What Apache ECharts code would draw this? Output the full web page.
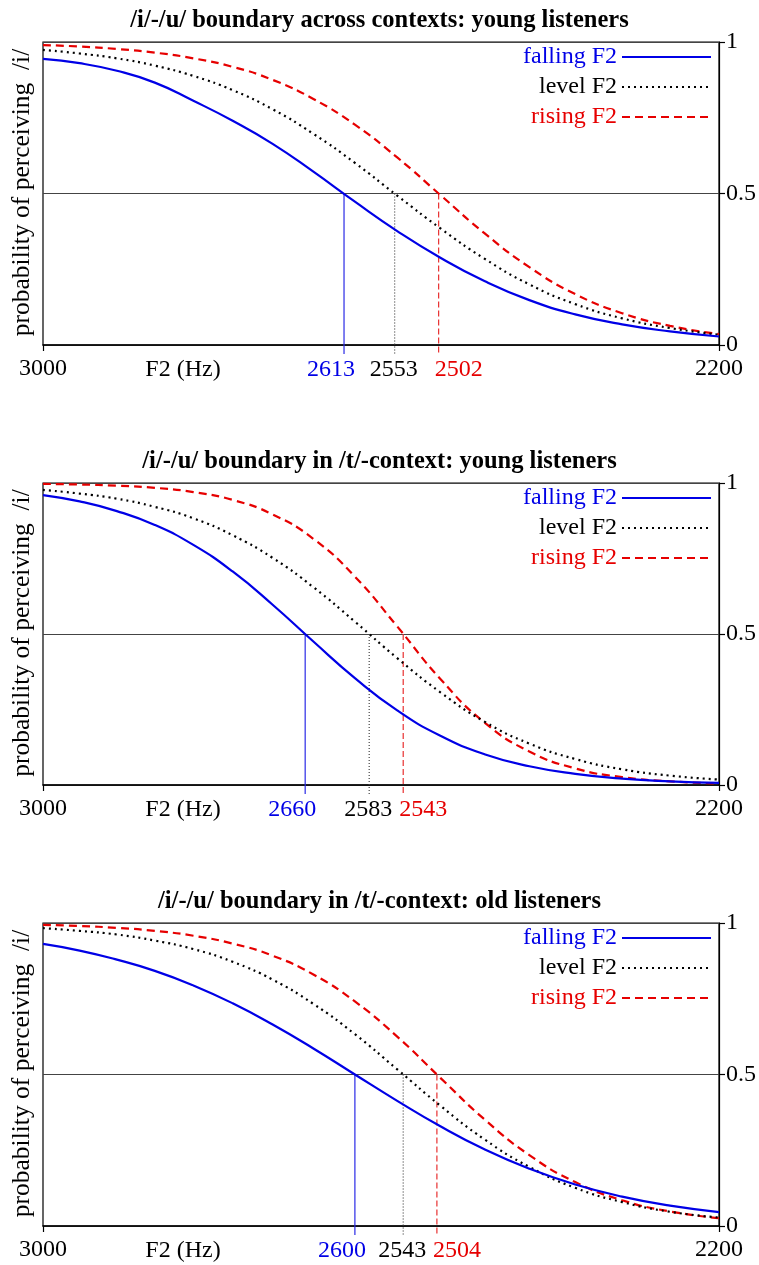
<!DOCTYPE html>
<html><head><meta charset="utf-8">
<script src="https://cdn.jsdelivr.net/npm/echarts@6/dist/echarts.min.js"></script>
<style>html,body{margin:0;padding:0;background:#fff}#c{width:759px;height:1265px}</style>
</head><body><div id="c"></div>
<script>
// ---- data ----
const F2 = [3000, 2950, 2900, 2850, 2800, 2750, 2700, 2650, 2600, 2550, 2500, 2450, 2400, 2350, 2300, 2250, 2200];
const panelTitles = [
  '/i/-/u/ boundary across contexts: young listeners',
  '/i/-/u/ boundary in /t/-context: young listeners',
  '/i/-/u/ boundary in /t/-context: old listeners'
];
const seriesNames = ['falling F2', 'level F2', 'rising F2'];
const xTickValues = [3000, 2200];
const yTickValues = [0, 0.5, 1];
const xAxisName = 'F2 (Hz)';
const yAxisName = 'probability of perceiving  /i/';

const p1Falling = [0.944,0.930,0.905,0.866,0.806,0.740,0.664,0.572,0.473,0.376,0.288,0.211,0.148,0.101,0.068,0.045,0.028];
const p1Level   = [0.974,0.962,0.946,0.922,0.888,0.841,0.778,0.697,0.601,0.493,0.385,0.285,0.200,0.135,0.088,0.056,0.034];
const p1Rising  = [0.990,0.985,0.977,0.965,0.946,0.918,0.875,0.812,0.727,0.619,0.495,0.369,0.257,0.168,0.105,0.063,0.036];
const p2Falling = [0.960,0.939,0.907,0.861,0.795,0.707,0.597,0.475,0.354,0.247,0.163,0.102,0.062,0.037,0.021,0.012,0.007];
const p2Level   = [0.977,0.965,0.948,0.921,0.883,0.827,0.752,0.655,0.541,0.420,0.307,0.210,0.137,0.086,0.052,0.031,0.018];
const p2Rising  = [0.997,0.995,0.991,0.984,0.970,0.944,0.896,0.815,0.690,0.525,0.351,0.207,0.111,0.055,0.026,0.012,0.005];
const p3Falling = [0.931,0.909,0.879,0.842,0.794,0.735,0.665,0.586,0.500,0.413,0.329,0.253,0.189,0.137,0.097,0.067,0.046];
const p3Level   = [0.983,0.974,0.962,0.942,0.914,0.872,0.813,0.733,0.633,0.517,0.397,0.286,0.195,0.126,0.079,0.047,0.028];
const p3Rising  = [0.994,0.990,0.984,0.974,0.958,0.932,0.892,0.830,0.741,0.625,0.489,0.352,0.234,0.145,0.085,0.048,0.026];

const p1Boundaries = [2613, 2553, 2502];
const p2Boundaries = [2660, 2583, 2543];
const p3Boundaries = [2600, 2543, 2504];

// ---- layout / style ----
const FONT = '"Liberation Serif", "Times New Roman", serif';
const FS = 24;
const gridTops = [42, 483, 923];
const gridHeights = [303, 302, 303];
const GL = 43, GR = 40;
const colors = ['#0000e6', '#000000', '#e60000'];
const curveDash = ['solid', [2, 4], [8, 5]];
const vDash = [null, [1, 2], [6, 3]];
const vColors = ['#2a2ae6', '#444444', '#e83030'];
const labelDx = [-13, -1, 20];

const panels = [
  { vals: [p1Falling, p1Level, p1Rising], bounds: p1Boundaries },
  { vals: [p2Falling, p2Level, p2Rising], bounds: p2Boundaries },
  { vals: [p3Falling, p3Level, p3Rising], bounds: p3Boundaries }
];

const grid = [], xAxis = [], yAxis = [], series = [], legend = [], title = [], graphic = [];

panels.forEach((p, k) => {
  grid.push({ left: GL, right: GR, top: gridTops[k], height: gridHeights[k],
    show: true, borderColor: '#000', borderWidth: 1.2, backgroundColor: 'transparent' });
  xAxis.push({
    type: 'log', gridIndex: k, min: 2200, max: 3000, inverse: true, logBase: 10,
    axisLine: { show: true, lineStyle: { color: '#000', width: 1.5 } },
    axisTick: { show: true, inside: false, length: 6, customValues: xTickValues, lineStyle: { color: '#000', width: 1.2 } },
    axisLabel: { show: true, customValues: xTickValues, margin: 12, color: '#000',
      fontFamily: FONT, fontSize: FS, formatter: v => String(Math.round(v)) },
    splitLine: { show: false }, minorTick: { show: false }, minorSplitLine: { show: false }
  });
  yAxis.push({
    type: 'value', gridIndex: k, position: 'right', min: 0, max: 1, interval: 0.5,
    axisLine: { show: true, lineStyle: { color: '#000', width: 1.2 } },
    axisTick: { show: true, inside: false, length: 6, lineStyle: { color: '#000', width: 1.2 } },
    axisLabel: { show: true, margin: 7, color: '#000', fontFamily: FONT, fontSize: FS,
      formatter: v => yTickValues.indexOf(v) >= 0 ? String(v) : '' },
    splitLine: { show: true, lineStyle: { color: '#444', width: 1.2 } }
  });
  p.vals.forEach((vals, s) => {
    series.push({
      type: 'line', name: seriesNames[s], xAxisIndex: k, yAxisIndex: k,
      data: F2.map((f, i) => [f, vals[i]]),
      smooth: 0.5, symbol: 'none', showSymbol: false,
      silent: true, animation: false, z: 5 - s,
      lineStyle: { color: colors[s], width: 2.2, type: curveDash[s], cap: 'butt' },
      itemStyle: { color: colors[s] }
    });
  });
  series.push({
    type: 'custom', xAxisIndex: k, yAxisIndex: k, silent: true, animation: false, clip: false, z: 2,
    data: p.bounds.map((f, i) => [f, 0.5, i]),
    encode: { x: 0, y: 1 },
    renderItem: (params, api) => {
      const f = api.value(0), i = api.value(2);
      const a = api.coord([f, 0.5]);
      const b = api.coord([f, 0]);
      return { type: 'group', children: [
        { type: 'line', shape: { x1: a[0], y1: a[1], x2: b[0], y2: b[1] + 9 },
          style: { stroke: vColors[i], lineWidth: 1.2, lineDash: vDash[i] } },
        { type: 'text', style: { text: String(f), x: b[0] + labelDx[i], y: b[1] + 25,
          align: 'center', verticalAlign: 'middle', textAlign: 'center', textVerticalAlign: 'middle',
          fill: colors[i], fontFamily: FONT, fontSize: FS } }
      ]};
    }
  });
  legend.push({
    top: gridTops[k] + 3, right: 47, orient: 'vertical', align: 'right',
    itemWidth: 89, itemHeight: 24, itemGap: 6, padding: 0, selectedMode: false,
    itemStyle: { opacity: 0, borderWidth: 0 },
    textStyle: { fontFamily: FONT, fontSize: FS, color: '#000' },
    data: seriesNames.map((n, i) => ({ name: n, textStyle: { color: colors[i], fontFamily: FONT, fontSize: FS } }))
  });
  title.push({ text: panelTitles[k], left: 'center', top: gridTops[k] - 34, padding: 0,
    textStyle: { fontFamily: FONT, fontSize: 24.5, fontWeight: 'bold', color: '#000' } });
  graphic.push({ type: 'text', x: 183, y: gridTops[k] + gridHeights[k] + 25,
    style: { text: xAxisName, fontFamily: FONT, fontSize: FS, fill: '#000',
      align: 'center', verticalAlign: 'middle', textAlign: 'center', textVerticalAlign: 'middle' } });
  graphic.push({ type: 'text', x: 22, y: gridTops[k] + gridHeights[k] / 2 - 1, rotation: Math.PI / 2,
    style: { text: yAxisName, fontFamily: FONT, fontSize: 25.5, fill: '#000',
      align: 'center', verticalAlign: 'middle', textAlign: 'center', textVerticalAlign: 'middle' } });
});

const chart = echarts.init(document.getElementById('c'), null, { renderer: 'canvas' });
chart.setOption({ animation: false, backgroundColor: '#fff', grid, xAxis, yAxis, series, legend, title, graphic });
</script>
</body></html>
